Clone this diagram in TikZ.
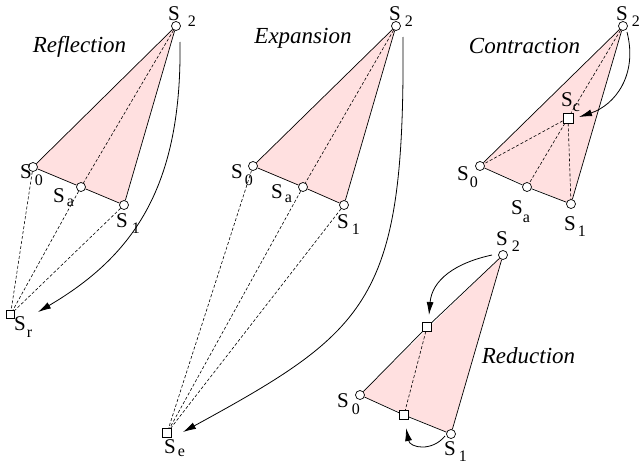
\documentclass[tikz,border=0pt]{standalone}
\usepackage{fontspec}
\setmainfont{Liberation Serif}
\usetikzlibrary{arrows.meta,backgrounds}
\definecolor{simplexpink}{RGB}{255,224,224}
\newcommand{\slab}[3]{S\hspace{#1pt}\raisebox{-#2pt}{\fontsize{16}{16}\selectfont #3}}
\begin{document}
\begin{tikzpicture}[x=1pt,y=-1pt,
  vtx/.style={circle,draw,fill=white,inner sep=0pt,minimum size=9pt,line width=0.7pt},
  sqr/.style={rectangle,draw,fill=white,inner sep=0pt,minimum size=8.5pt,line width=0.7pt},
  bigsqr/.style={sqr,minimum size=10pt},
  edge/.style={line width=0.7pt},
  dashln/.style={dash pattern=on 3pt off 2pt,line width=0.6pt},
  arr/.style={line width=0.8pt,-{Latex[length=13pt,width=7pt]}},
  lab/.style={font=\fontsize{21}{21}\selectfont,inner sep=0pt,anchor=base west},
  ttl/.style={font=\fontsize{23}{23}\selectfont\itshape,inner sep=0pt,anchor=base},
  tri/.style={fill=simplexpink}]
\useasboundingbox (0,0) rectangle (640,463);

% ---------------- Reflection ----------------
\node[vtx] (r2) at (176,26) {};
\node[vtx] (r0) at (33,167) {};
\node[vtx] (ra) at (81,187) {};
\node[vtx] (r1) at (124,205) {};
\node[sqr] (rr) at (10.5,314.5) {};
\begin{scope}[on background layer]
  \fill[tri] (r0.center) -- (r2.center) -- (r1.center) -- cycle;
\end{scope}
\draw[edge] (r0) -- (r2);
\draw[edge] (r2) -- (r1);
\draw[edge] (r0) -- (ra);
\draw[edge] (ra) -- (r1);
\draw[dashln] (r2) -- (ra);
\draw[dashln] (r0) -- (rr);
\draw[dashln] (ra) -- (rr);
\draw[dashln] (r1) -- (rr);
\coordinate (rs) at (180,42);
\coordinate (re) at (38,312);
\draw[arr] (rs) .. controls (182,185) and (135,255) .. (re);
\node[ttl] (tr) at (79.5,52) {Reflection};
\node[lab] (lr2) at (168,20) {\slab{8}{6}{2}};
\node[lab] (lr0) at (20,178) {\slab{3}{7}{0}};
\node[lab] (lra) at (53,202) {\slab{2}{4}{a}};
\node[lab] (lr1) at (116,227) {\slab{4}{6}{1}};
\node[lab] (lrr) at (14,330) {\slab{1}{7}{r}};

% ---------------- Expansion ----------------
\node[vtx] (e2) at (396,26) {};
\node[vtx] (e0) at (253,166) {};
\node[vtx] (ea) at (303,187) {};
\node[vtx] (e1) at (344,205) {};
\node[sqr] (ee) at (167,433) {};
\begin{scope}[on background layer]
  \fill[tri] (e0.center) -- (e2.center) -- (e1.center) -- cycle;
\end{scope}
\draw[edge] (e0) -- (e2);
\draw[edge] (e2) -- (e1);
\draw[edge] (e0) -- (ea);
\draw[edge] (ea) -- (e1);
\draw[dashln] (e2) -- (ea);
\draw[dashln] (e0) -- (ee);
\draw[dashln] (ea) -- (ee);
\draw[dashln] (e1) -- (ee);
\coordinate (es) at (403,37);
\coordinate (eend) at (183,432);
\draw[arr] (es) .. controls (405,300) and (370,330) .. (eend);
\node[ttl] (te) at (303,43) {Expansion};
\node[lab] (le2) at (389,20) {\slab{4}{6}{2}};
\node[lab] (le0) at (231,178) {\slab{2}{7}{0}};
\node[lab] (lea) at (271,198) {\slab{2}{4}{a}};
\node[lab] (le1) at (337,228) {\slab{3}{6}{1}};
\node[lab] (lee) at (164,453) {\slab{2}{3}{e}};

% ---------------- Contraction ----------------
\node[vtx] (c2) at (623,26) {};
\node[vtx] (c0) at (480,166) {};
\node[vtx] (ca) at (527,187) {};
\node[vtx] (c1) at (571,204) {};
\node[bigsqr] (cc) at (568,118) {};
\begin{scope}[on background layer]
  \fill[tri] (c0.center) -- (c2.center) -- (c1.center) -- cycle;
\end{scope}
\draw[edge] (c0) -- (c2);
\draw[edge] (c2) -- (c1);
\draw[edge] (c0) -- (ca);
\draw[edge] (ca) -- (c1);
\draw[dashln] (c2) -- (cc);
\draw[dashln] (cc) -- (c0);
\draw[dashln] (cc) -- (ca);
\draw[dashln] (cc) -- (c1);
\coordinate (cs) at (627,32);
\coordinate (cend) at (579,117);
\draw[arr] (cs) .. controls (638,75) and (615,105) .. (cend);
\node[ttl] (tc) at (524.5,53) {Contraction};
\node[lab] (lc2) at (616,20) {\slab{4}{6}{2}};
\node[lab] (lc0) at (457,180) {\slab{1}{7}{0}};
\node[lab] (lca) at (511,214) {\slab{0}{8}{a}};
\node[lab] (lc1) at (564,230) {\slab{2}{6}{1}};
\node[lab] (lcc) at (561,106) {\slab{0}{5}{c}};

% ---------------- Reduction ----------------
\node[vtx] (d2) at (503,255) {};
\node[vtx] (d0) at (360,395) {};
\node[vtx] (d1) at (451,434) {};
\node[sqr] (dm) at (427,327) {};
\node[sqr] (dn) at (404,415) {};
\begin{scope}[on background layer]
  \fill[tri] (d0.center) -- (d2.center) -- (d1.center) -- cycle;
\end{scope}
\draw[edge] (d0) -- (dm);
\draw[edge] (dm) -- (d2);
\draw[edge] (d2) -- (d1);
\draw[edge] (d1) -- (dn);
\draw[edge] (dn) -- (d0);
\draw[dashln] (dm) -- (dn);
\coordinate (ds) at (492,255);
\coordinate (dend) at (429,315);
\draw[arr] (ds) .. controls (455,263) and (432,280) .. (dend);
\coordinate (ds2) at (445,436);
\coordinate (dend2) at (406,428);
\draw[arr] (ds2) .. controls (432,452) and (410,448) .. (dend2);
\node[ttl] (td) at (528.5,363) {Reduction};
\node[lab] (ld2) at (496,245) {\slab{4}{6}{2}};
\node[lab] (ld0) at (337,407) {\slab{3}{7}{0}};
\node[lab] (ld1) at (444,455) {\slab{3}{6}{1}};
\end{tikzpicture}
\end{document}
